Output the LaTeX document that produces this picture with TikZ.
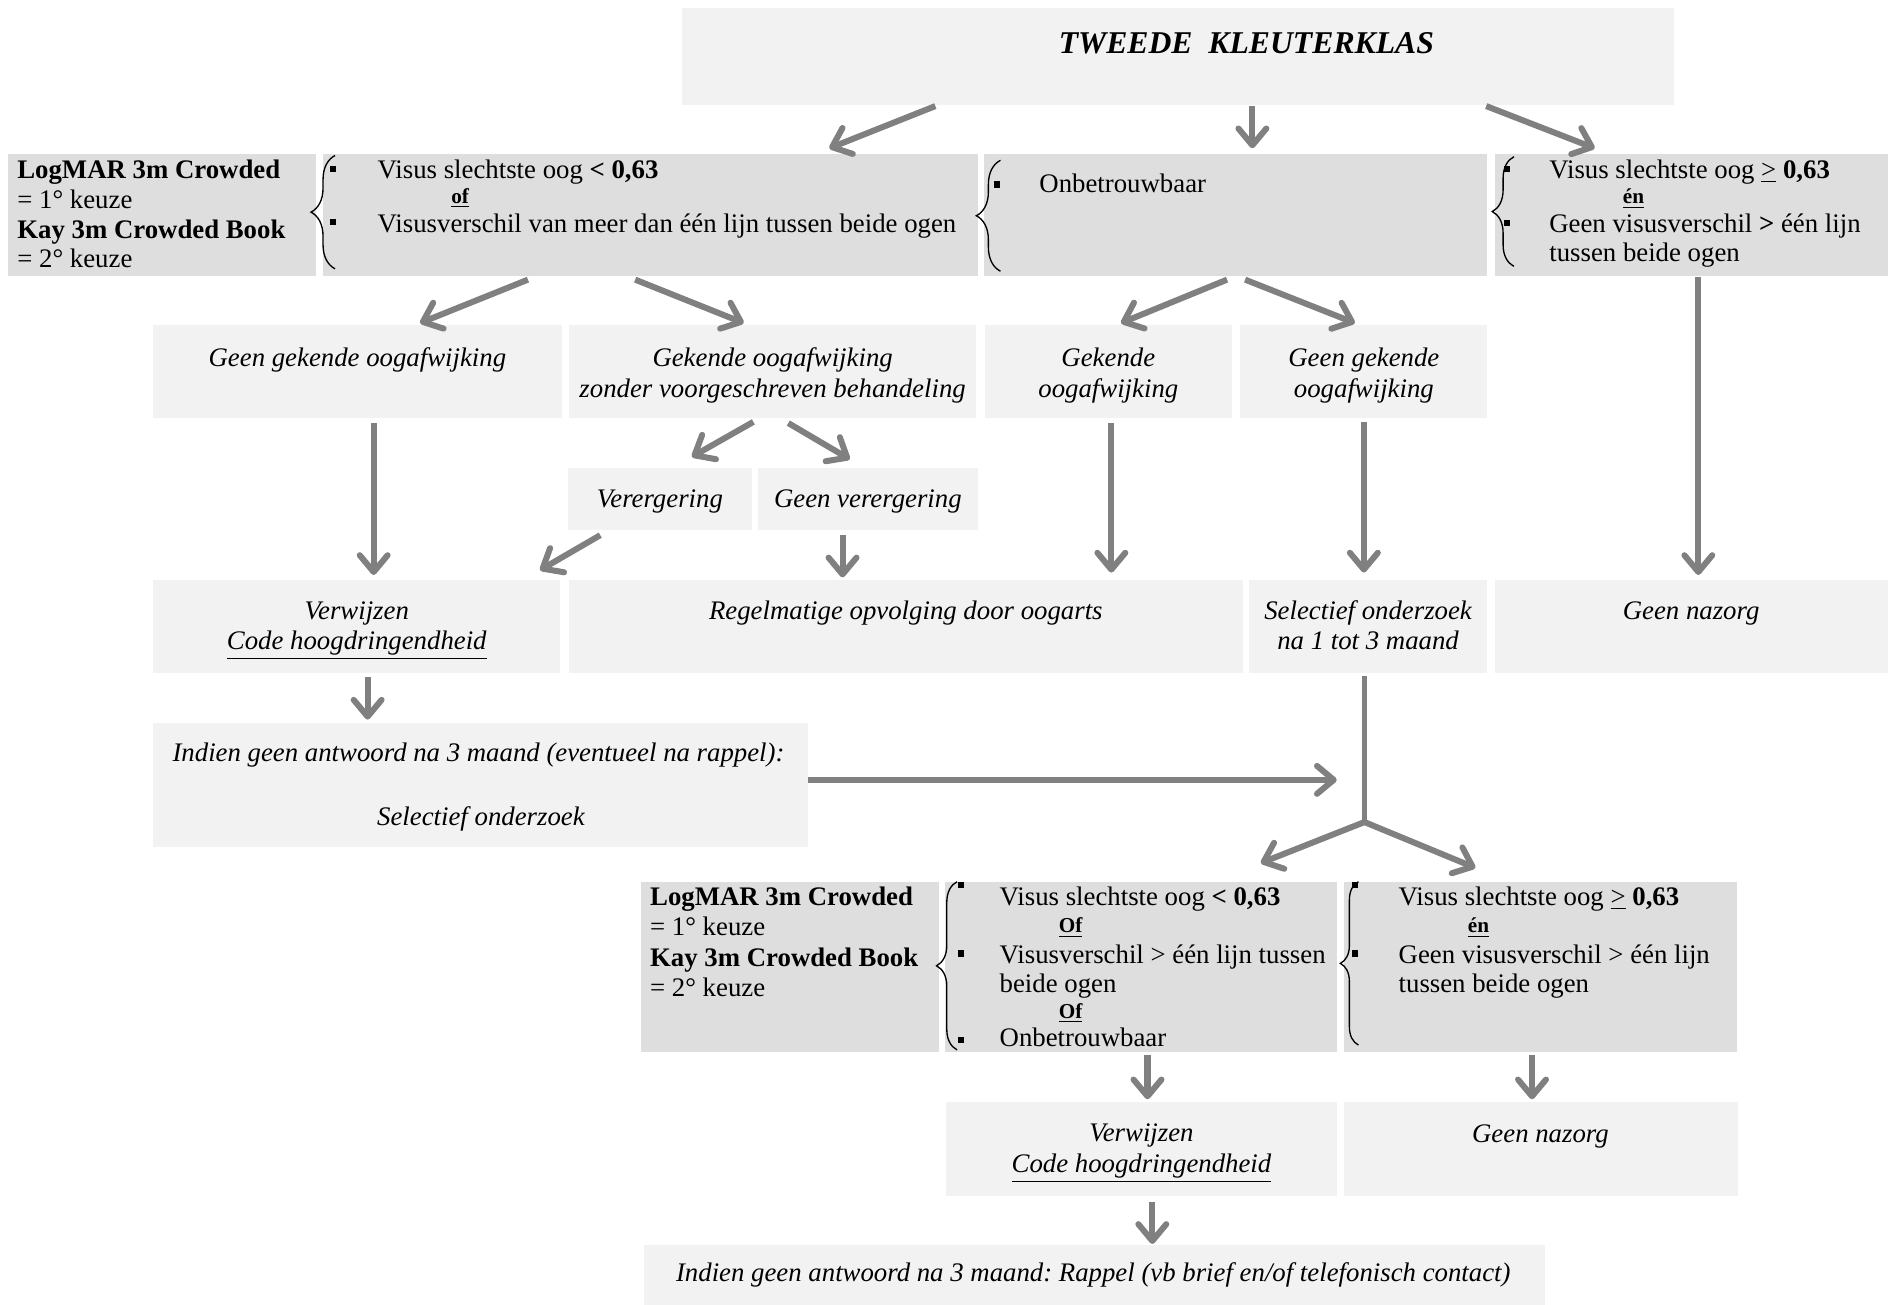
\documentclass[tikz,border=0pt]{standalone}
\usepackage{fontspec}
\setmainfont{Liberation Serif}
\usetikzlibrary{arrows.meta,fit,decorations.pathreplacing}
\definecolor{lightbox}{HTML}{F2F2F2}
\definecolor{darkbox}{HTML}{DEDEDE}
\definecolor{arrowgray}{HTML}{808080}
\frenchspacing
\begin{document}
\begin{tikzpicture}[x=0.54pt,y=-0.54pt,
  lbox/.style={fill=lightbox, draw=none, inner sep=0pt},
  dbox/.style={fill=darkbox, draw=none, inner sep=0pt},
  arr/.style={draw=arrowgray, line width=2.7pt, -{Straight Barb[length=7.5pt,width=12.5pt,round]}},
  plainline/.style={draw=arrowgray, line width=2.4pt},
  brc/.style={draw=black, line width=0.6pt, decorate, decoration={brace, amplitude=#1}},
  txt/.style={inner sep=0pt, anchor=base west, font=\fontsize{12}{14}\selectfont},
  btx/.style={inner sep=0pt, anchor=base west, font=\fontsize{12}{14}\selectfont\bfseries},
  smallbtx/.style={inner sep=0pt, anchor=base west, font=\fontsize{9.5}{11}\selectfont\bfseries},
  itx/.style={inner sep=0pt, anchor=base, font=\fontsize{12}{14}\selectfont\itshape},
  bul/.style={fill=black, inner sep=0pt, minimum size=2.8pt},
]
\useasboundingbox (0,0) rectangle (1568,1081.85);

% ---------- boxes ----------
\node[lbox, fit={(566,7) (1389,87)}] (top) {};
\node[dbox, fit={(7,128) (262,229)}] (lm1) {};
\node[dbox, fit={(268,128) (811,229)}] (b12) {};
\node[dbox, fit={(816,128) (1234,229)}] (b13) {};
\node[dbox, fit={(1240,128) (1566,229)}] (b14) {};

\node[lbox, fit={(127,270) (466,347)}] (r21) {};
\node[lbox, fit={(472,270) (810,347)}] (r22) {};
\node[lbox, fit={(817,270) (1022,347)}] (r23) {};
\node[lbox, fit={(1029,270) (1234,347)}] (r24) {};

\node[lbox, fit={(471,388) (624,440)}] (r31) {};
\node[lbox, fit={(629,388) (811,440)}] (r32) {};

\node[lbox, fit={(127,481) (465,558)}] (r41) {};
\node[lbox, fit={(472,481) (1031,558)}] (r42) {};
\node[lbox, fit={(1036,481) (1234,558)}] (r43) {};
\node[lbox, fit={(1240,481) (1566,558)}] (r44) {};

\node[lbox, fit={(127,600) (670,703)}] (r51) {};

\node[dbox, fit={(532,731.5) (779,873)}] (lm2) {};
\node[dbox, fit={(784,731.5) (1109,873)}] (b62) {};
\node[dbox, fit={(1115,731.5) (1441,873)}] (b63) {};

\node[lbox, fit={(785,914) (1109,992)}] (r71) {};
\node[lbox, fit={(1115,914) (1442,992)}] (r72) {};

\node[lbox, fit={(534,1033) (1282,1085)}] (r81) {};

% ---------- braces ----------
\draw[brc=10.8pt] (278,223) -- (278,129);
\draw[brc=10.8pt] (830,225) -- (830,133);
\draw[brc=9.7pt] (1256,221) -- (1256,130);
\draw[brc=9.2pt] (794,871) -- (794,731.5);
\draw[brc=8.1pt] (1127,867) -- (1127,731.5);

% ---------- bullets ----------
\node[bul] (u1) at (276,140) {};
\node[bul] (u2) at (276,184) {};
\node[bul] (u3) at (827,153) {};
\node[bul] (u4) at (1250,140) {};
\node[bul] (u5) at (1250,185) {};
\node[bul] (u6) at (797,734) {};
\node[bul] (u7) at (797,791) {};
\node[bul] (u8) at (797,863) {};
\node[bul] (u9) at (1124,734) {};
\node[bul] (u10) at (1124,791) {};

% ---------- texts ----------
\node[inner sep=0pt, anchor=base west, font=\fontsize{14.2}{16}\selectfont\bfseries\itshape] (ttitle) at (878,44) {TWEEDE\ \ KLEUTERKLAS};

\node[btx] (t1) at (14,148) {LogMAR 3m Crowded};
\node[txt] (t2) at (14,173) {= 1° keuze};
\node[btx] (t3) at (14,198) {Kay 3m Crowded Book};
\node[txt] (t4) at (14,222) {= 2° keuze};

\node[txt] (t5) at (313,148) {Visus slechtste oog \textbf{< 0,63}};
\node[smallbtx] (t6) at (374,168.5) {\underline{of}};
\node[txt] (t7) at (313,193) {Visusverschil van meer dan één lijn tussen beide ogen};

\node[txt] (t8) at (862,160) {Onbetrouwbaar};

\node[txt] (t9) at (1285,148) {Visus slechtste oog \underline{>} \textbf{0,63}};
\node[smallbtx] (t10) at (1346,169) {\underline{én}};
\node[txt] (t11) at (1285,193) {Geen visusverschil \textbf{>} één lijn};
\node[txt] (t12) at (1285,217) {tussen beide ogen};

\node[itx] (t13) at (296.5,304) {Geen gekende oogafwijking};
\node[itx] (t14) at (641,304) {Gekende oogafwijking};
\node[itx] (t15) at (641,330) {zonder voorgeschreven behandeling};
\node[itx] (t16) at (919.5,304) {Gekende};
\node[itx] (t17) at (919.5,330) {oogafwijking};
\node[itx] (t18) at (1131.5,304) {Geen gekende};
\node[itx] (t19) at (1131.5,330) {oogafwijking};

\node[itx] (t20) at (547.5,421) {Verergering};
\node[itx] (t21) at (720,421) {Geen verergering};

\node[itx] (t22) at (296,514) {Verwijzen};
\node[itx] (t23) at (296,539) {\underline{Code hoogdringendheid}};
\node[itx] (t24) at (751.5,514) {Regelmatige opvolging door oogarts};
\node[itx] (t25) at (1135,514) {Selectief onderzoek};
\node[itx] (t26) at (1135,539) {na 1 tot 3 maand};
\node[itx] (t27) at (1403,514) {Geen nazorg};

\node[itx] (t28) at (397,632) {Indien geen antwoord na 3 maand (eventueel na rappel):};
\node[itx] (t29) at (399,684.5) {Selectief onderzoek};

\node[btx] (t30) at (539,751) {LogMAR 3m Crowded};
\node[txt] (t31) at (539,776) {= 1° keuze};
\node[btx] (t32) at (539,802) {Kay 3m Crowded Book};
\node[txt] (t33) at (539,827) {= 2° keuze};

\node[txt] (t34) at (829,751) {Visus slechtste oog \textbf{< 0,63}};
\node[smallbtx] (t35) at (878,774) {\underline{Of}};
\node[txt] (t36) at (829,799) {Visusverschil > één lijn tussen};
\node[txt] (t37) at (829,823) {beide ogen};
\node[smallbtx] (t38) at (878,845) {\underline{Of}};
\node[txt] (t39) at (829,868) {Onbetrouwbaar};

\node[txt] (t40) at (1160,751) {Visus slechtste oog \underline{>} \textbf{0,63}};
\node[smallbtx] (t41) at (1217.5,774) {\underline{én}};
\node[txt] (t42) at (1160,799) {Geen visusverschil > één lijn};
\node[txt] (t43) at (1160,823) {tussen beide ogen};

\node[itx] (t44) at (947,947) {Verwijzen};
\node[itx] (t45) at (947,973) {\underline{Code hoogdringendheid}};
\node[itx] (t46) at (1278,948) {Geen nazorg};

\node[itx] (t47) at (907,1063) {Indien geen antwoord na 3 maand: Rappel (vb brief en/of telefonisch contact)};

% ---------- connector end points ----------
\coordinate (p1s) at (776,88);    \coordinate (p1e) at (688,123);
\coordinate (p2s) at (1039,88);   \coordinate (p2e) at (1039,123);
\coordinate (p3s) at (1233,88);   \coordinate (p3e) at (1323,123);
\coordinate (p4s) at (438,232);   \coordinate (p4e) at (348.5,268);
\coordinate (p5s) at (527,232);   \coordinate (p5e) at (617,268);
\coordinate (p6s) at (1018,232);  \coordinate (p6e) at (930,268);
\coordinate (p7s) at (1033,232);  \coordinate (p7e) at (1124,268);
\coordinate (p8s) at (1409,230);  \coordinate (p8e) at (1409,477);
\coordinate (p9s) at (310,351);   \coordinate (p9e) at (310,477);
\coordinate (p10s) at (625,350);  \coordinate (p10e) at (574,379);
\coordinate (p11s) at (654,351);  \coordinate (p11e) at (705,381);
\coordinate (p12s) at (922,351);  \coordinate (p12e) at (922,475);
\coordinate (p13s) at (1131.5,350); \coordinate (p13e) at (1131.5,475);
\coordinate (p14s) at (498,444);  \coordinate (p14e) at (448,473);
\coordinate (p15s) at (699,444);  \coordinate (p15e) at (699,479);
\coordinate (p16s) at (305,562);  \coordinate (p16e) at (305,597);
\coordinate (p17s) at (670,647);  \coordinate (p17e) at (1109,647);
\coordinate (p18s) at (1132,561); \coordinate (junc) at (1132,682);
\coordinate (p19e) at (1046,716); \coordinate (p20e) at (1224,720);
\coordinate (p21s) at (952,875);  \coordinate (p21e) at (952,912);
\coordinate (p22s) at (1271,875); \coordinate (p22e) at (1271,912);
\coordinate (p23s) at (956,997);  \coordinate (p23e) at (956,1032);

% ---------- connectors ----------
\draw[arr] (p1s) -- (p1e);
\draw[arr] (p2s) -- (p2e);
\draw[arr] (p3s) -- (p3e);
\draw[arr] (p4s) -- (p4e);
\draw[arr] (p5s) -- (p5e);
\draw[arr] (p6s) -- (p6e);
\draw[arr] (p7s) -- (p7e);
\draw[arr] (p8s) -- (p8e);
\draw[arr] (p9s) -- (p9e);
\draw[arr] (p10s) -- (p10e);
\draw[arr] (p11s) -- (p11e);
\draw[arr] (p12s) -- (p12e);
\draw[arr] (p13s) -- (p13e);
\draw[arr] (p14s) -- (p14e);
\draw[arr] (p15s) -- (p15e);
\draw[arr] (p16s) -- (p16e);
\draw[arr] (p17s) -- (p17e);
\draw[plainline] (p18s) -- (junc);
\draw[arr] (junc) -- (p19e);
\draw[arr] (junc) -- (p20e);
\draw[arr] (p21s) -- (p21e);
\draw[arr] (p22s) -- (p22e);
\draw[arr] (p23s) -- (p23e);
\end{tikzpicture}
\end{document}
